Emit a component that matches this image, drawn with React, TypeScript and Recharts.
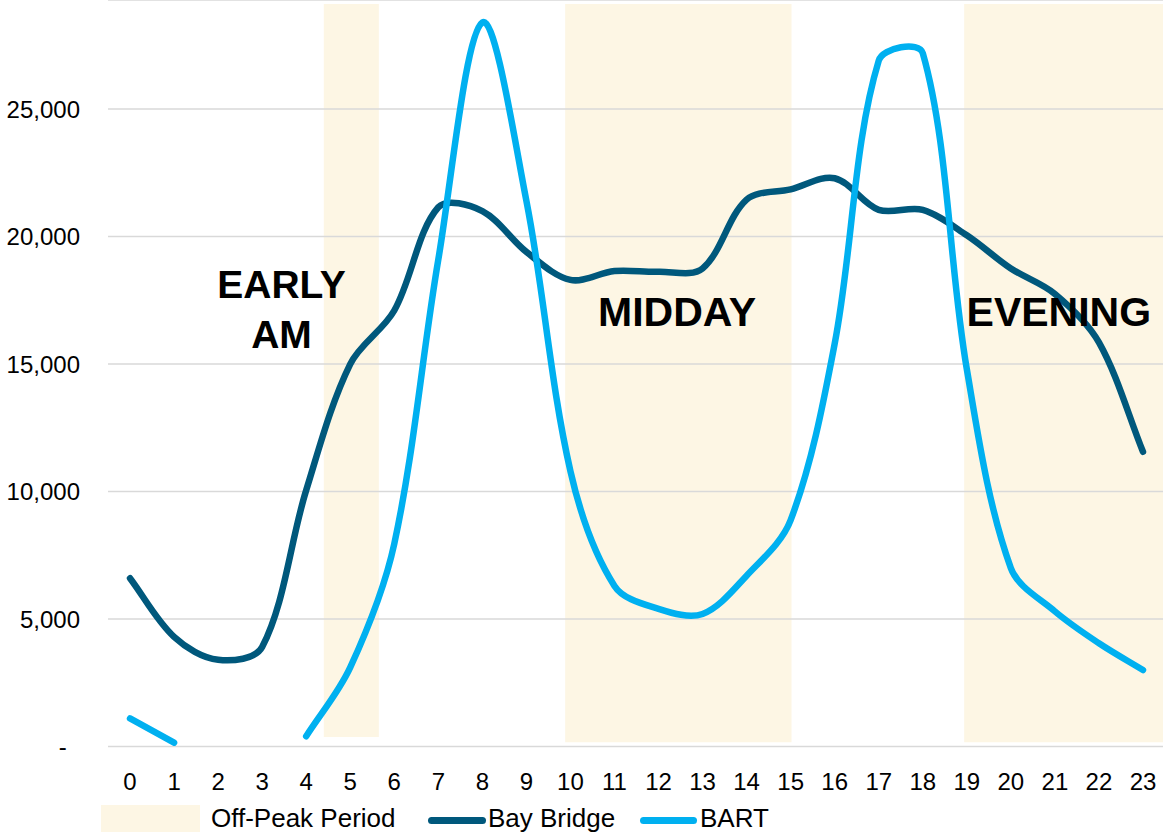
import React from 'react';
import { ComposedChart, Line, XAxis, YAxis, CartesianGrid, ReferenceArea, ReferenceDot, Legend } from 'recharts';

// hourly volumes
const hours = [0, 1, 2, 3, 4, 5, 6, 7, 8, 9, 10, 11, 12, 13, 14, 15, 16, 17, 18, 19, 20, 21, 22, 23];
const bayBridge = [6600, 4300, 3400, 3900, 10050, 15000, 17100, 21150, 21000, 19400, 18300, 18650, 18620, 18750, 21450, 21850, 22290, 21050, 21050, 20050, 18750, 17750, 15850, 11560];
const bart = [1100, 150, null, null, 400, 3100, 7950, 19100, 28400, 21400, 10800, 6300, 5400, 5200, 6700, 8880, 15800, 26900, 27200, 14800, 7000, 5300, 4050, 3000];
const yTicks = [0, 5000, 10000, 15000, 20000, 25000];

// off-peak shading (hour ranges)
const offPeakStart = [4.4, 9.88, 18.94];
const offPeakEnd = [5.65, 15.02, 23.5];
const offPeakBottom = [370, 170, 170];

// period captions
const periodNames = ['EARLY', 'AM', 'MIDDAY', 'EVENING'];
const periodHour = [3.44, 3.44, 12.42, 21.09];
const periodLevel = [18120, 16180, 17050, 17050];
const periodSize = [39, 39, 41, 41];

const BAY = '#00587c';
const BART = '#00b0f0';
const BAND = '#fdf6e4';
const GRID = '#d9d9d9';
const FONT = '"Liberation Sans", Arial, sans-serif';
const Y_MAX = 29280;
const Y_BAND_TOP = 29120;

const chartData = hours.map((h, i) => ({ hour: h, bayBridge: bayBridge[i], bart: bart[i] }));

const formatY = (v: number) => (v === 0 ? '-\u00a0\u00a0' : v.toLocaleString('en-US'));

// spreadsheet-style smoothed line: bezier handles scaled by neighbouring segment lengths
function smoothCurve(context: any) {
  let pts: number[][] = [];
  return {
    areaStart() {},
    areaEnd() {},
    lineStart() {
      pts = [];
    },
    point(x: number, y: number) {
      pts.push([+x, +y]);
    },
    lineEnd() {
      const n = pts.length;
      if (!n) return;
      context.moveTo(pts[0][0], pts[0][1]);
      if (n === 1) {
        context.lineTo(pts[0][0], pts[0][1]);
        return;
      }
      for (let i = 0; i < n - 1; i++) {
        const a = pts[i - 1] || pts[i];
        const b = pts[i];
        const c = pts[i + 1];
        const d = pts[i + 2] || pts[i + 1];
        const lab = Math.hypot(b[0] - a[0], b[1] - a[1]);
        const lbc = Math.hypot(c[0] - b[0], c[1] - b[1]);
        const lcd = Math.hypot(d[0] - c[0], d[1] - c[1]);
        const k1 = lab + lbc > 0 ? lbc / (lab + lbc) / 3 : 0;
        const k2 = lbc + lcd > 0 ? lbc / (lbc + lcd) / 3 : 0;
        context.bezierCurveTo(
          b[0] + (c[0] - a[0]) * k1,
          b[1] + (c[1] - a[1]) * k1,
          c[0] - (d[0] - b[0]) * k2,
          c[1] - (d[1] - b[1]) * k2,
          c[0],
          c[1]
        );
      }
    },
  };
}

const LegendBox = () => (
  <div style={{ position: 'relative', width: 1163, height: 42, fontFamily: FONT, fontSize: 26, color: '#000' }}>
    <div style={{ position: 'absolute', left: 101, top: 15, width: 99, height: 27, background: BAND }} />
    <span style={{ position: 'absolute', left: 211, top: 13, lineHeight: '30px', whiteSpace: 'nowrap' }}>Off-Peak Period</span>
    <div style={{ position: 'absolute', left: 428, top: 27, width: 58, height: 7, borderRadius: 4, background: BAY }} />
    <span style={{ position: 'absolute', left: 488, top: 13, lineHeight: '30px', whiteSpace: 'nowrap' }}>Bay Bridge</span>
    <div style={{ position: 'absolute', left: 640, top: 27, width: 57, height: 7, borderRadius: 4, background: BART }} />
    <span style={{ position: 'absolute', left: 700, top: 13, lineHeight: '30px', whiteSpace: 'nowrap' }}>BART</span>
  </div>
);

export default function App() {
  return (
    <div style={{ position: 'absolute', left: 0, top: 0, width: 1163, height: 832, overflow: 'hidden', background: '#fff' }}>
      <ComposedChart width={1165} height={832} data={chartData} margin={{ top: 0, right: 0, bottom: 0, left: 0 }}>
        {offPeakStart.map((s, i) => (
          <ReferenceArea
            key={`band-${i}`}
            x1={s}
            x2={offPeakEnd[i]}
            y1={offPeakBottom[i]}
            y2={Y_BAND_TOP}
            fill={BAND}
            fillOpacity={1}
            stroke="none"
            ifOverflow="visible"
            zIndex={-200}
          />
        ))}
        <CartesianGrid vertical={false} stroke={GRID} strokeWidth={1.5} />
        <XAxis
          dataKey="hour"
          type="number"
          domain={[-0.5, 23.5]}
          ticks={hours}
          interval={0}
          axisLine={false}
          tickLine={false}
          tickSize={0}
          tickMargin={26.5}
          height={43.5}
          tick={{ fontSize: 24, fill: '#000', fontFamily: FONT }}
        />
        <YAxis
          type="number"
          domain={[0, Y_MAX]}
          ticks={yTicks}
          allowDataOverflow
          axisLine={false}
          tickLine={false}
          tickSize={0}
          tickMargin={28}
          width={108}
          tickFormatter={formatY}
          tick={{ fontSize: 24, fill: '#000', fontFamily: FONT }}
        />
        <Legend verticalAlign="bottom" content={() => <LegendBox />} />
        <Line
          type={smoothCurve as any}
          dataKey="bayBridge"
          name="Bay Bridge"
          stroke={BAY}
          strokeWidth={6.5}
          strokeLinecap="round"
          dot={false}
          activeDot={false}
          isAnimationActive={false}
        />
        <Line
          type={smoothCurve as any}
          dataKey="bart"
          name="BART"
          stroke={BART}
          strokeWidth={6.5}
          strokeLinecap="round"
          dot={false}
          activeDot={false}
          connectNulls={false}
          isAnimationActive={false}
        />
        {periodNames.map((name, i) => (
          <ReferenceDot
            key={name}
            x={periodHour[i]}
            y={periodLevel[i]}
            r={0}
            fill="none"
            stroke="none"
            label={{ value: name, position: 'center', fontSize: periodSize[i], fontWeight: 700, fill: '#000', fontFamily: FONT }}
          />
        ))}
      </ComposedChart>
    </div>
  );
}
